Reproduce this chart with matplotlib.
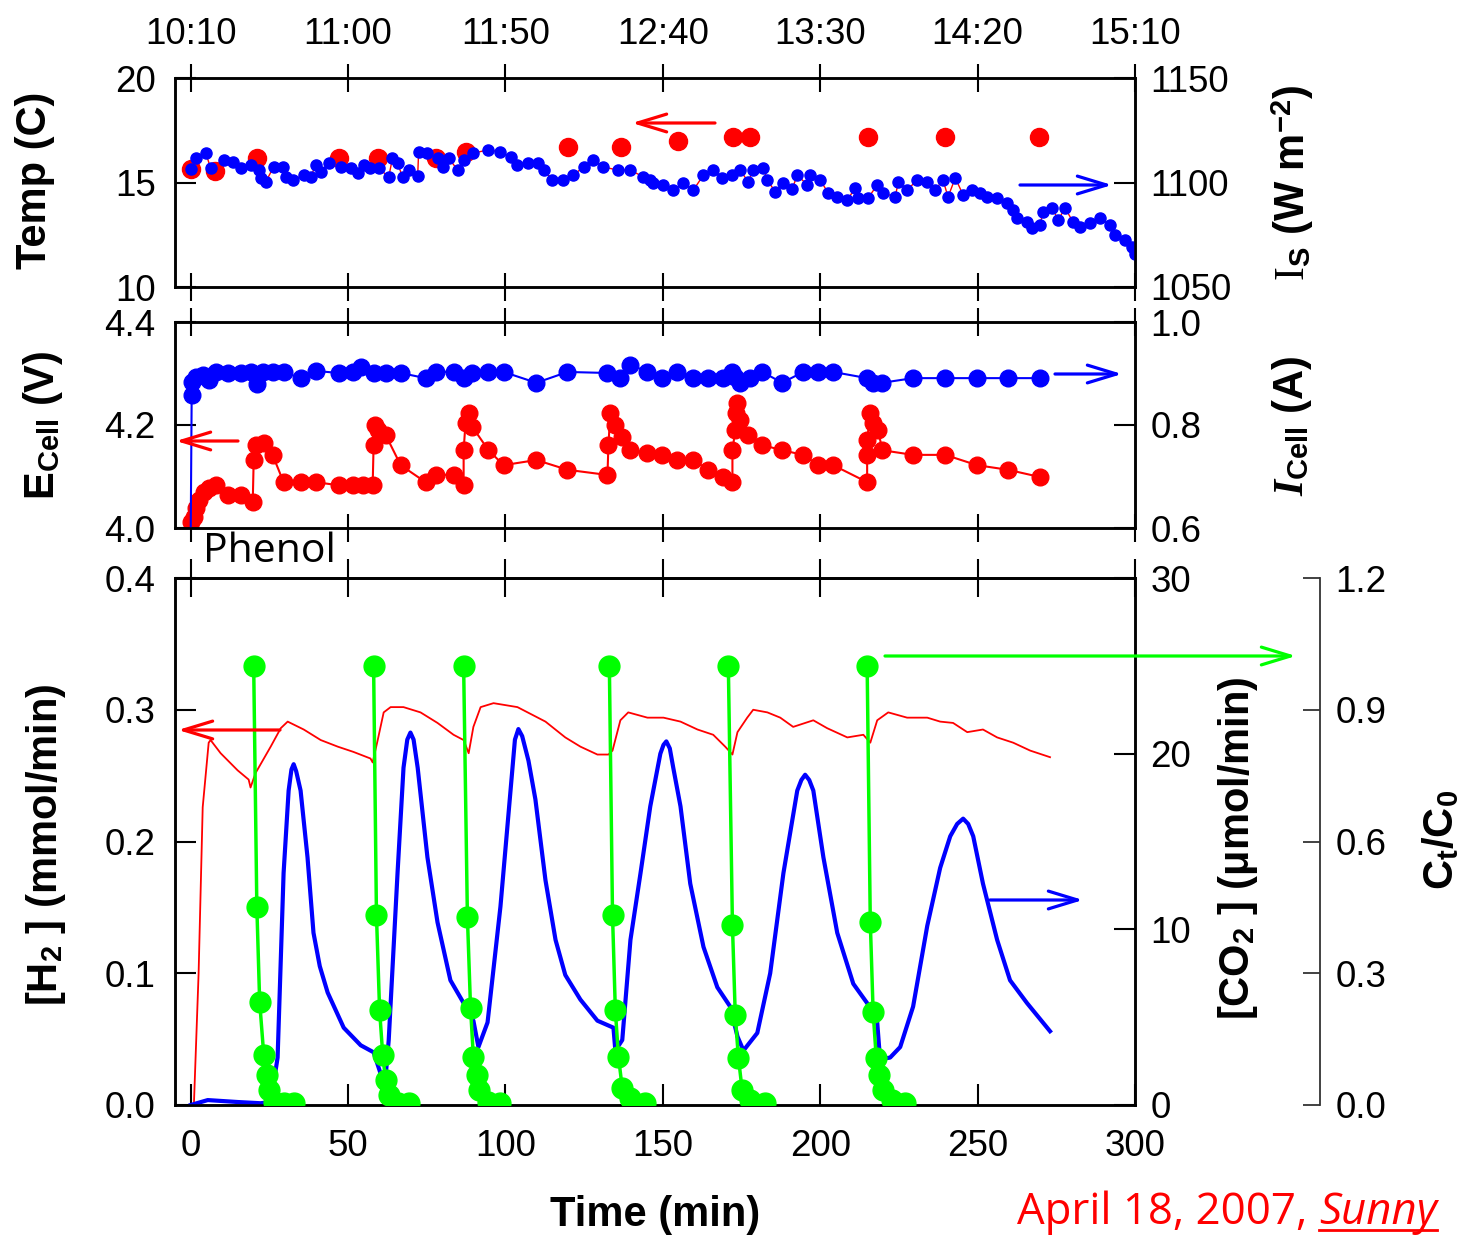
import matplotlib
matplotlib.use("Agg")
import matplotlib.pyplot as plt
from matplotlib.patches import FancyArrowPatch
from matplotlib.ticker import FormatStrFormatter

plt.rcParams['font.family'] = ['Liberation Sans', 'DejaVu Sans']
plt.rcParams['mathtext.fontset'] = 'custom'
plt.rcParams['mathtext.rm'] = 'Liberation Serif'
plt.rcParams['mathtext.it'] = 'Liberation Serif:italic:bold'
plt.rcParams['mathtext.bf'] = 'Liberation Sans:bold'
plt.rcParams['mathtext.sf'] = 'Liberation Sans:bold'

# ---------------- data ----------------
clock_labels = ['10:10', '11:00', '11:50', '12:40', '13:30', '14:20', '15:10']
time_ticks = [0, 50, 100, 150, 200, 250, 300]

# top panel: temperature (left) and solar irradiance (right)
temp_t = [0, 7.6, 21.0, 47.0, 59.4, 78.0, 87.6, 120.0, 136.8, 154.8, 172.3, 177.8, 215.2, 239.7, 269.5]
temp_c = [15.65, 15.55, 16.17, 16.17, 16.17, 16.17, 16.45, 16.7, 16.7, 16.98, 17.2, 17.2, 17.2, 17.2, 17.2]

irr_t = [0.0, 1.6, 4.8, 6.3, 10.5, 13.3, 15.9, 19.0, 21.6, 22.2, 23.8, 26.3, 29.2, 30.2, 32.4,
         35.9, 38.1, 39.7, 41.3, 43.8, 47.6, 50.8, 53.0, 54.9, 57.1, 59.7, 62.9, 64.1, 65.7, 67.3,
         69.2, 72.1, 72.4, 75.2, 78.4, 80.0, 81.9, 84.8, 86.7, 89.8, 94.6, 98.4, 101.6, 103.8, 107.0,
         110.2, 112.1, 114.9, 118.4, 121.6, 124.8, 127.9, 131.1, 135.6, 139.7, 143.8, 146.0, 147.0, 150.2, 153.3,
         156.5, 159.7, 162.9, 166.0, 168.9, 172.1, 174.6, 177.1, 178.7, 181.9, 183.2, 185.7, 188.3, 191.1, 192.7,
         195.9, 196.8, 200.0, 202.5, 205.4, 208.6, 211.1, 212.1, 215.2, 218.1, 220.0, 223.8, 224.8, 227.6, 230.8,
         234.0, 236.5, 239.0, 240.6, 242.9, 245.4, 248.3, 250.8, 253.0, 256.2, 259.4, 261.3, 262.5, 265.7, 267.3,
         269.8, 270.8, 273.7, 275.6, 277.8, 280.3, 282.5, 285.7, 288.9, 292.1, 293.7, 296.8, 299.0, 300.0]
irr_w = [1106.5, 1111.7, 1114.1, 1106.9, 1110.8, 1109.8, 1106.9, 1108.4, 1106.0, 1102.2, 1100.2, 1107.4, 1107.4, 1102.6, 1101.2,
         1103.6, 1102.6, 1108.4, 1105.0, 1109.3, 1107.4, 1106.9, 1104.5, 1108.4, 1106.9, 1106.9, 1102.6, 1111.7, 1109.3, 1102.6,
         1106.0, 1103.1, 1114.6, 1114.1, 1111.7, 1107.4, 1111.7, 1106.0, 1110.8, 1114.1, 1115.6, 1114.6, 1112.2, 1108.4, 1109.3,
         1109.3, 1106.0, 1101.2, 1101.2, 1103.6, 1107.4, 1110.8, 1107.4, 1106.0, 1106.0, 1102.6, 1101.2, 1099.8, 1098.8, 1096.4,
         1099.8, 1096.4, 1103.6, 1106.0, 1102.2, 1103.6, 1106.0, 1100.2, 1106.0, 1106.9, 1101.2, 1095.5, 1099.8, 1096.9, 1103.6,
         1098.8, 1103.6, 1101.2, 1095.0, 1093.1, 1091.6, 1097.4, 1092.6, 1092.6, 1098.8, 1095.0, 1093.1, 1100.2, 1096.4, 1101.2,
         1100.2, 1096.4, 1101.2, 1093.1, 1102.2, 1094.0, 1096.4, 1095.0, 1093.1, 1092.6, 1090.2, 1086.8, 1083.0, 1081.1, 1078.2,
         1079.7, 1085.9, 1087.8, 1082.1, 1087.8, 1081.1, 1078.7, 1080.6, 1083.0, 1079.7, 1074.9, 1072.5, 1069.1, 1065.8]

# middle panel: cell voltage (left) and cell current (right)
ecell_t = [0, 1.0, 1.6, 2.5, 4.1, 5.7, 7.9, 11.7, 15.9, 19.7, 20.0, 20.6, 23.2, 26.0, 29.5, 34.9, 39.7,
           47.0, 51.4, 54.6, 57.8, 58.1, 58.7, 59.4, 61.9, 66.7, 74.6, 77.8, 83.5, 86.7, 86.7, 87.3, 88.3,
           89.5, 94.6, 99.4, 109.8, 119.7, 132.4, 132.7, 133.3, 134.9, 137.1, 139.7, 145.1, 149.8, 154.6,
           159.7, 164.4, 169.2, 172.1, 172.1, 173.0, 173.7, 173.3, 174.6, 177.1, 181.6, 187.9, 194.6, 199.4,
           204.1, 214.9, 214.9, 214.9, 215.9, 216.8, 218.4, 219.7, 229.5, 239.7, 249.8, 259.7, 269.8]
ecell_v = [4.012, 4.021, 4.039, 4.054, 4.070, 4.078, 4.083, 4.064, 4.064, 4.050, 4.132, 4.161, 4.165, 4.142, 4.089, 4.089, 4.089,
           4.083, 4.083, 4.083, 4.083, 4.161, 4.200, 4.190, 4.181, 4.122, 4.089, 4.103, 4.103, 4.083, 4.151, 4.204, 4.223,
           4.196, 4.151, 4.122, 4.132, 4.113, 4.103, 4.161, 4.223, 4.200, 4.177, 4.151, 4.146, 4.142, 4.132,
           4.132, 4.113, 4.099, 4.089, 4.151, 4.190, 4.243, 4.223, 4.210, 4.181, 4.161, 4.151, 4.142, 4.122,
           4.122, 4.089, 4.142, 4.171, 4.223, 4.204, 4.190, 4.151, 4.142, 4.142, 4.122, 4.113, 4.099]

icell_t = [0, 0.3, 0.3, 1.6, 3.8, 5.7, 7.9, 11.7, 15.9, 19.0, 21.0, 22.9, 26.0, 29.5, 34.9, 39.7, 47.0, 51.4,
           54.0, 58.1, 61.9, 66.7, 74.6, 77.8, 83.5, 86.7, 89.5, 94.6, 99.4, 109.8, 119.7, 132.4, 136.5, 139.7,
           145.1, 149.8, 154.6, 159.7, 164.4, 169.2, 172.1, 173.0, 174.6, 177.8, 181.6, 187.9, 194.6, 199.4,
           204.1, 214.9, 216.8, 219.7, 229.5, 239.7, 249.8, 259.7, 269.8]
icell_a = [0.6, 0.858, 0.883, 0.893, 0.897, 0.887, 0.903, 0.901, 0.901, 0.903, 0.880, 0.903, 0.903, 0.903, 0.891, 0.905, 0.901, 0.903,
           0.913, 0.901, 0.901, 0.901, 0.891, 0.903, 0.903, 0.891, 0.901, 0.903, 0.903, 0.882, 0.903, 0.901, 0.891, 0.917,
           0.903, 0.891, 0.903, 0.891, 0.891, 0.891, 0.903, 0.893, 0.882, 0.891, 0.903, 0.882, 0.903, 0.903,
           0.903, 0.891, 0.882, 0.882, 0.891, 0.891, 0.891, 0.891, 0.891]

# bottom panel: H2 (left), CO2 (right), phenol Ct/C0 (far right)
h2_t = [0, 1.0, 2.5, 3.8, 5.7, 6.3, 9.5, 14.9, 18.4, 19.0, 20.6, 25.4, 28.6, 30.8, 35.9, 41.3, 46.7, 51.7,
        57.1, 57.8, 59.4, 61.3, 63.5, 67.6, 73.0, 78.4, 83.5, 86.7, 88.3, 89.8, 92.1, 96.2, 103.8, 112.7,
        119.0, 123.8, 129.2, 132.7, 134.0, 136.5, 139.0, 145.1, 150.2, 155.6, 161.0, 166.0, 169.8, 172.1,
        173.7, 176.8, 178.7, 183.2, 187.3, 191.4, 197.8, 202.2, 208.6, 213.7, 215.9, 218.1, 221.6, 227.6,
        234.0, 238.1, 242.2, 246.7, 251.7, 256.2, 261.3, 266.7, 273.0]
h2_v = [0, 0.0, 0.100, 0.226, 0.275, 0.277, 0.267, 0.254, 0.247, 0.241, 0.252, 0.272, 0.286, 0.291, 0.285, 0.277, 0.272, 0.268,
        0.263, 0.260, 0.277, 0.298, 0.302, 0.302, 0.298, 0.290, 0.281, 0.277, 0.267, 0.287, 0.302, 0.305, 0.302, 0.291,
        0.279, 0.272, 0.266, 0.266, 0.269, 0.292, 0.298, 0.294, 0.294, 0.291, 0.285, 0.281, 0.272, 0.266,
        0.283, 0.294, 0.300, 0.298, 0.294, 0.287, 0.292, 0.286, 0.279, 0.281, 0.275, 0.292, 0.298, 0.294,
        0.294, 0.291, 0.290, 0.283, 0.285, 0.279, 0.275, 0.269, 0.264]

co2_t = [0, 5.4, 14.9, 22.2, 25.4, 27.6, 29.5, 31.1, 32.0, 32.7, 33.5, 34.9, 37.1, 39.0, 41.0, 43.5, 48.6, 54.0, 58.1, 60.3,
         61.3, 62.9, 65.7, 67.6, 68.8, 69.8, 70.8, 72.1, 75.2, 78.4, 82.5, 86.7, 89.8, 91.4, 94.3, 98.4, 101.6, 103.0, 104.1,
         105.3, 107.3, 109.5, 112.7, 115.9, 119.0, 123.8, 129.2, 134.3, 134.9, 137.1, 139.7, 142.9, 146.0, 149.2, 150.2,
         151.1, 152.2, 153.3, 155.6, 158.7, 162.9, 167.3, 171.4, 173.7, 175.6, 180.0, 184.1, 188.3, 192.7, 194.0, 195.2,
         196.5, 197.8, 201.0, 205.4, 210.5, 214.9, 218.1, 219.0, 222.2, 225.4, 229.5, 234.0, 238.1, 241.3, 243.5, 245.4,
         247.0, 248.6, 251.7, 256.2, 260.3, 265.7, 273.0]
co2_v = [0, 0.28, 0.17, 0.1, 0.17, 2.7, 13.2, 17.9, 19.1, 19.4, 19.0, 17.9, 14.1, 9.8, 7.9, 6.4, 4.4, 3.4, 3.0, 1.8,
         0.3, 3.7, 13.2, 19.2, 20.8, 21.2, 20.8, 19.2, 14.1, 10.4, 7.1, 5.8, 4.8, 3.3, 4.7, 11.3, 17.9, 20.8, 21.4,
         21.0, 19.6, 17.4, 12.8, 9.4, 7.4, 6.0, 4.8, 4.4, 3.1, 3.7, 9.4, 13.2, 17.0, 20.0, 20.5,
         20.7, 20.3, 19.2, 17.0, 12.6, 9.0, 6.7, 5.6, 3.9, 3.1, 4.1, 7.5, 13.2, 17.9, 18.5, 18.8,
         18.5, 17.9, 14.1, 9.8, 6.9, 5.8, 4.7, 2.6, 2.7, 3.3, 5.6, 10.2, 13.5, 15.3, 16.0, 16.3,
         16.0, 15.3, 12.6, 9.4, 7.1, 5.8, 4.2]

phenol_t = [[20.0, 21.0, 21.9, 23.2, 24.1, 24.8, 26.3, 29.5, 32.7],
            [58.1, 59.0, 60.0, 61.0, 61.9, 62.9, 65.7, 69.2],
            [86.7, 87.9, 88.9, 89.8, 90.8, 91.7, 94.3, 98.4],
            [133.0, 134.0, 134.9, 135.9, 137.1, 139.7, 144.4],
            [170.8, 172.1, 173.0, 174.0, 175.2, 177.8, 182.5],
            [214.9, 215.9, 216.8, 217.8, 218.7, 220.0, 222.9, 227.0]]
phenol_c = [[1.0, 0.451, 0.235, 0.114, 0.068, 0.034, 0.007, 0.005, 0.005],
            [1.0, 0.433, 0.216, 0.114, 0.057, 0.023, 0.005, 0.005],
            [1.0, 0.428, 0.221, 0.109, 0.068, 0.034, 0.007, 0.005],
            [1.0, 0.433, 0.216, 0.109, 0.039, 0.016, 0.005],
            [1.0, 0.410, 0.205, 0.107, 0.034, 0.011, 0.005],
            [1.0, 0.417, 0.212, 0.107, 0.068, 0.034, 0.011, 0.005]]

RED, BLUE, GREEN = '#ff0000', '#0000ff', '#00ff00'

# ---------------- figure ----------------
W, H = 1470, 1238
fig = plt.figure(figsize=(W / 100, H / 100), dpi=100)


def box(l, t, r, b):
    return [l / W, 1 - b / H, (r - l) / W, (b - t) / H]


def fpt(x, y):
    return (x / W, 1 - y / H)


ax1 = fig.add_axes(box(175, 78, 1135, 287))
ax2 = fig.add_axes(box(175, 322, 1135, 528))
ax3 = fig.add_axes(box(175, 578, 1135, 1105))

TS = 26.5

# top
ax1.plot(temp_t, temp_c, 'o', color=RED, ms=13, mec=RED)
t1 = ax1.twinx()
t1.plot(irr_t, irr_w, '-', color=RED, lw=1, marker='o', ms=8, mfc=BLUE, mec=BLUE)
ax1.set_ylim(10, 20)
ax1.set_yticks([10, 15, 20])
t1.set_ylim(1050, 1150)
t1.set_yticks([1050, 1100, 1150])
ax1.set_xticks(time_ticks)
ax1.set_xticklabels(clock_labels)
ax1.tick_params(axis='x', top=True, bottom=True, direction='inout', length=20, width=1.5,
                labeltop=True, labelbottom=False, labelsize=TS, pad=9)

# middle
ax2.plot(ecell_t, ecell_v, '-o', color=RED, lw=1.5, ms=12)
t2 = ax2.twinx()
t2.plot(icell_t, icell_a, '-o', color=BLUE, lw=1.5, ms=12, markevery=slice(1, None))
ax2.set_ylim(4.0, 4.4)
ax2.set_yticks([4.0, 4.2, 4.4])
ax2.yaxis.set_major_formatter(FormatStrFormatter('%.1f'))
t2.set_ylim(0.6, 1.0)
t2.set_yticks([0.6, 0.8, 1.0])
t2.yaxis.set_major_formatter(FormatStrFormatter('%.1f'))
ax2.set_xticks(time_ticks)
ax2.tick_params(axis='x', top=True, bottom=True, direction='inout', length=20, width=1.5,
                labelbottom=False)

# bottom
ax3.plot(h2_t, h2_v, '-', color=RED, lw=1.3)
t3 = ax3.twinx()
t3.plot(co2_t, co2_v, '-', color=BLUE, lw=3)
t4 = ax3.twinx()
for gt, gc in zip(phenol_t, phenol_c):
    t4.plot(gt, gc, '-o', color=GREEN, lw=2.5, ms=15)
ax3.set_ylim(0, 0.4)
ax3.set_yticks([0, 0.1, 0.2, 0.3, 0.4])
ax3.yaxis.set_major_formatter(FormatStrFormatter('%.1f'))
t3.set_ylim(0, 30)
t3.set_yticks([0, 10, 20, 30])
t4.set_ylim(0, 1.2)
t4.set_yticks([0, 0.3, 0.6, 0.9, 1.2])
t4.yaxis.set_major_formatter(FormatStrFormatter('%.1f'))
t4.spines['right'].set_position(('axes', (1320 - 175) / 960))
for s in ['left', 'top', 'bottom']:
    t4.spines[s].set_visible(False)
t4.spines['right'].set_linewidth(1.3)
t4.spines['right'].set_color('#333333')
ax3.set_xticks(time_ticks)
ax3.tick_params(axis='x', top=False, bottom=True, direction='in', length=15, width=1.5,
                labelsize=TS, pad=17)
sec = ax3.secondary_xaxis('top')
sec.set_xticks(time_ticks)
sec.tick_params(direction='inout', length=28, width=1.5, labeltop=False)
sec.spines['top'].set_linewidth(1.8)

for a in (ax1, ax2, ax3):
    a.set_xlim(-5, 300)
for a in (ax1, t1, ax2, t2, ax3, t3, t4):
    pad = 14 if a in (ax1, ax2, ax3) else 11
    a.tick_params(axis='y', direction='in', length=15, width=1.5, labelsize=TS, pad=pad)
    for s in a.spines.values():
        if s.get_visible() and a is not t4:
            s.set_linewidth(1.8)
t4.tick_params(axis='y', length=12, width=1.3, color='#333333')

# axis labels
lab = dict(fontsize=30, fontweight='bold', ha='center', va='center')
fig.text(*fpt(35, 180), 'Temp (C)', rotation=90, **lab)
fig.text(*fpt(43, 425), r'E$_{\mathsf{Cell}}$ (V)', rotation=90, **lab)
fig.text(*fpt(46, 845), r'[H$_{\mathsf{2}}$ ] (mmol/min)', rotation=90, **lab)
fig.text(*fpt(655, 1215), 'Time (min)', **lab)
fig.text(*fpt(1293, 183), r'$\mathrm{I}_{\mathsf{S}}$ (W m$^{\mathsf{-2}}$)', rotation=90, **lab)
fig.text(*fpt(1292, 426), r'$I_{\mathsf{Cell}}$ (A)', rotation=90, **lab)
fig.text(*fpt(1238, 848), r'[CO$_{\mathsf{2}}$ ] (μmol/min)', rotation=90, **lab)
fig.text(*fpt(1442, 840), r'C$_{\mathsf{t}}$/C$_{\mathsf{0}}$', rotation=90, **lab)

fig.text(*fpt(203, 552), 'Phenol', fontsize=29.5, family=['Open Sans', 'DejaVu Sans'], ha='left', va='center')

# arrows pointing to the axis each series belongs to
arrows = [((715, 123), (632, 123), RED), ((1020, 185), (1112, 185), BLUE),
          ((238, 441), (176, 441), RED), ((1055, 374), (1122, 374), BLUE),
          ((280, 730), (178, 730), RED), ((990, 900), (1083, 900), BLUE),
          ((885, 656), (1296, 656), GREEN)]
for tail, tip, c in arrows:
    fig.add_artist(FancyArrowPatch(fpt(*tail), fpt(*tip), transform=fig.transFigure,
                                   arrowstyle='->,head_length=1.05,head_width=0.32',
                                   mutation_scale=20, color=c, lw=2.3, shrinkA=0, shrinkB=0))

# date note
note = dict(fontsize=31.5, color=RED, va='baseline', family=['Open Sans', 'DejaVu Sans'])
t_sun = fig.text(*fpt(1437, 1224), 'Sunny', style='italic', ha='right', **note)
fig.canvas.draw()
bb = t_sun.get_window_extent()
fig.text(bb.x0 / W, 1 - 1224 / H, 'April 18, 2007, ', ha='right', **note)
fig.add_artist(plt.Line2D([bb.x0 / W, bb.x1 / W], [1 - 1230 / H] * 2, color=RED, lw=2,
                          transform=fig.transFigure))

fig.savefig('out.png', dpi=100)
